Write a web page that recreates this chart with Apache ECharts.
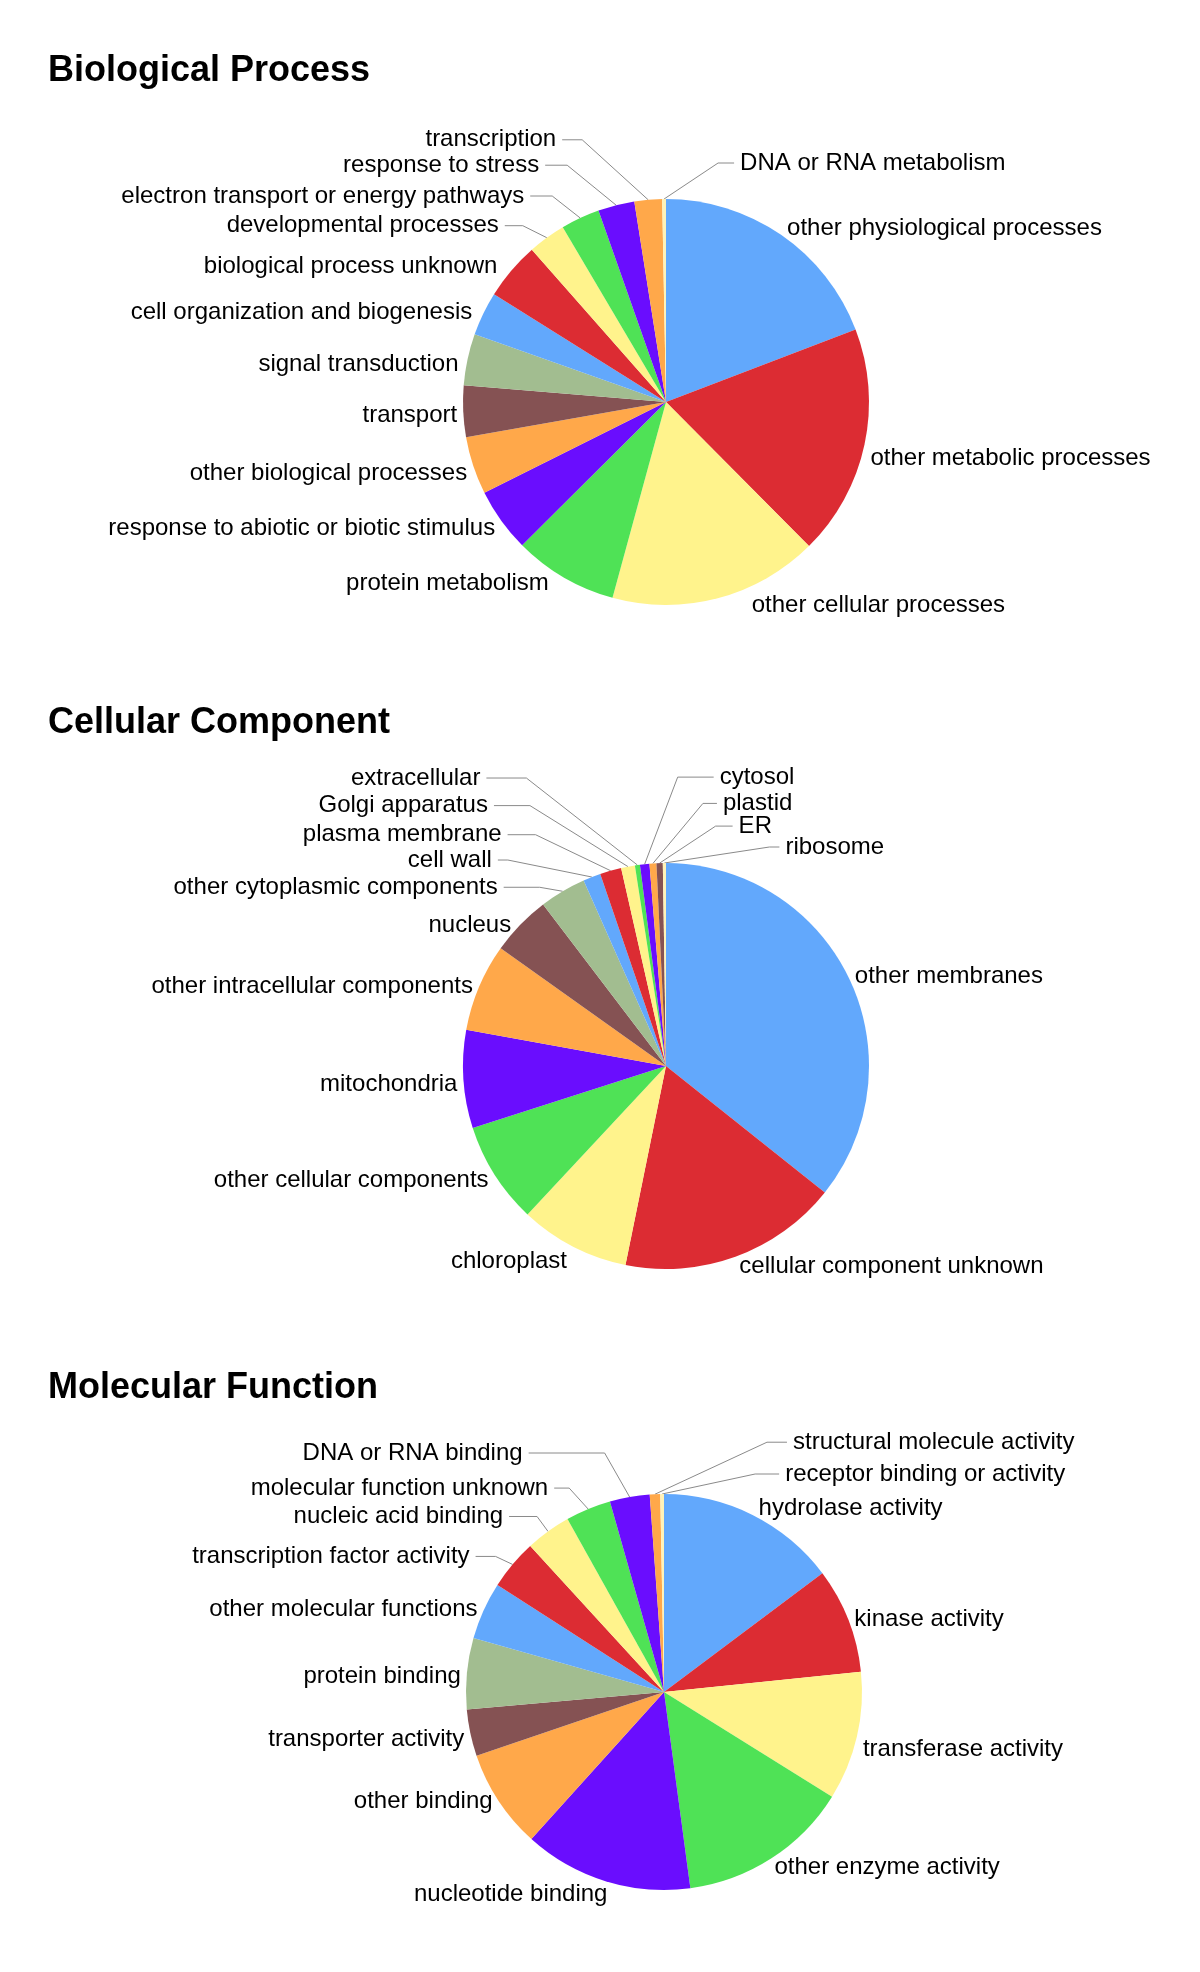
<!DOCTYPE html>
<html>
<head>
<meta charset="utf-8">
<script src="https://cdn.jsdelivr.net/npm/echarts@6/dist/echarts.min.js"></script>
<style>
html,body{margin:0;padding:0;background:#fff;}
#chart{width:1200px;height:1972px;}
</style>
</head>
<body>
<div id="chart"></div>
<script>
// ---- Data (percent of annotations) ----
const bpTitle = 'Biological Process';
const bpCategories = ['other physiological processes','other metabolic processes','other cellular processes','protein metabolism','response to abiotic or biotic stimulus','other biological processes','transport','signal transduction','cell organization and biogenesis','biological process unknown','developmental processes','electron transport or energy pathways','response to stress','transcription','DNA or RNA metabolism'];
const bpValues = [19.2, 18.4, 16.7, 8.3, 5.1, 4.6, 4.1, 4.1, 3.5, 4.6, 3.0, 3.1, 2.9, 2.2, 0.3];

const ccTitle = 'Cellular Component';
const ccCategories = ['other membranes','cellular component unknown','chloroplast','other cellular components','mitochondria','other intracellular components','nucleus','other cytoplasmic components','cell wall','plasma membrane','Golgi apparatus','extracellular','cytosol','plastid','ER','ribosome'];
const ccValues = [35.7, 17.5, 8.75, 8.1, 7.8, 7.0, 4.8, 3.7, 1.4, 1.7, 1.1, 0.4, 0.75, 0.55, 0.5, 0.25];

const mfTitle = 'Molecular Function';
const mfCategories = ['hydrolase activity','kinase activity','transferase activity','other enzyme activity','nucleotide binding','other binding','transporter activity','protein binding','other molecular functions','transcription factor activity','nucleic acid binding','molecular function unknown','DNA or RNA binding','structural molecule activity','receptor binding or activity'];
const mfValues = [14.75, 8.6, 10.5, 14.0, 13.8, 8.1, 3.8, 5.8, 4.7, 4.1, 3.7, 3.7, 3.25, 0.85, 0.3];

// ---- Label styling: labels moved away with a leader line ----
// [offset x of text end from slice edge, offset y, horizontal elbow length]
const bpLeader = {
  'transcription': [-92, -60, 20],
  'response to stress': [-77, -40, 22],
  'electron transport or energy pathways': [-56, -22, 22],
  'developmental processes': [-48, -12, 18],
  'DNA or RNA metabolism': [76, -36, 16]
};
const ccLeader = {
  'other cytoplasmic components': [-65, -4, 36],
  'cell wall': [-100, -17, 10],
  'plasma membrane': [-109, -36, 28],
  'Golgi apparatus': [-140, -61, 36],
  'extracellular': [-157, -87, 40],
  'cytosol': [75, -87, 36],
  'plastid': [70, -60, 14],
  'ER': [79, -37, 17],
  'ribosome': [121, -16, 10]
};
const mfLeader = {
  'transcription factor activity': [-43, -8, 20],
  'nucleic acid binding': [-45, -15, 28],
  'molecular function unknown': [-40, -21, 15],
  'DNA or RNA binding': [-107, -44, 76],
  'structural molecule activity': [138, -52, 20],
  'receptor binding or activity': [123, -20, 24]
};
// small extra nudges [dx, dy] for labels without leader line
const labelNudge = {
  'other cellular processes': [28, -9],
  'protein metabolism': [-9, -8],
  'other metabolic processes': [0, 7],
  'biological process unknown': [-8, 0],
  'cell organization and biogenesis': [-5, 0],
  'signal transduction': [-3, 4],
  'response to abiotic or biotic stimulus': [0, -3],
  'nucleotide binding': [8, -2],
  'transferase activity': [0, 6],
  'other enzyme activity': [-3, -5],
  'other binding': [0, -10],
  'nucleus': [-3, 5],
  'other cellular components': [0, -5],
  'cellular component unknown': [-2, -6]
};

// ---- Style ----
const palette = ['#62a8fc','#dc2c33','#fff38c','#4fe256','#6a0dfe','#ffa84a','#855253','#a2bd90'];
const lastColor = '#fff2b8';
const FONT = '"Liberation Sans", Arial, Helvetica, sans-serif';
const GAP = 6;

// slice mid-angle geometry (pie starts at 12 o'clock, clockwise)
function sliceGeometry(vals, center, r) {
  const sum = vals.reduce((a, b) => a + b, 0);
  let cum = 0;
  return vals.map(v => {
    const mid = (cum + v / 2) / sum * 2 * Math.PI;
    cum += v;
    const s = Math.sin(mid), c = Math.cos(mid);
    return { s: s, c: c, x: center[0] + r * s, y: center[1] - r * c };
  });
}

function pieSeries(cats, vals, leaders, center, radius) {
  const geo = sliceGeometry(vals, center, radius);
  const data = cats.map((name, i) => ({
    name: name,
    value: vals[i],
    itemStyle: { color: (i === cats.length - 1) ? lastColor : palette[i % palette.length] },
    labelLine: { show: !!leaders[name] }
  }));
  return {
    type: 'pie',
    center: center,
    radius: radius,
    startAngle: 90,
    clockwise: true,
    avoidLabelOverlap: false,
    animation: false,
    silent: true,
    emphasis: { disabled: true },
    itemStyle: { borderWidth: 0 },
    label: {
      show: true,
      position: 'outside',
      formatter: '{b}',
      fontSize: 24,
      fontFamily: FONT,
      color: '#000'
    },
    labelLine: {
      show: true,
      length: 10,
      length2: 10,
      lineStyle: { color: '#8a8a8a', width: 1 }
    },
    labelLayout: function (p) {
      const g = geo[p.dataIndex];
      const name = cats[p.dataIndex];
      const lead = leaders[name];
      if (lead) {
        const right = lead[0] > 0;
        const tx = g.x + lead[0], ty = g.y + lead[1];
        const lx = right ? tx - GAP : tx + GAP;
        const ex = right ? lx - lead[2] : lx + lead[2];
        return {
          x: tx, y: ty, align: right ? 'left' : 'right', verticalAlign: 'middle',
          labelLinePoints: [[g.x, g.y], [ex, ty], [lx, ty]]
        };
      }
      const right = g.s >= 0;
      const n = labelNudge[name] || [0, 0];
      return {
        x: (right ? g.x + GAP : g.x - GAP) + n[0],
        y: g.y - 12 * g.c + 4 + n[1],
        align: right ? 'left' : 'right',
        verticalAlign: 'middle'
      };
    },
    data: data
  };
}

const chart = echarts.init(document.getElementById('chart'), null, { renderer: 'canvas' });
const titleStyle = { fontSize: 36, fontWeight: 'bold', fontFamily: FONT, color: '#000' };
chart.setOption({
  backgroundColor: '#fff',
  animation: false,
  title: [
    { text: bpTitle, left: 48, top: 53, padding: 0, textStyle: titleStyle },
    { text: ccTitle, left: 48, top: 705, padding: 0, textStyle: titleStyle },
    { text: mfTitle, left: 48, top: 1370, padding: 0, textStyle: titleStyle }
  ],
  series: [
    pieSeries(bpCategories, bpValues, bpLeader, [666, 402], 203),
    pieSeries(ccCategories, ccValues, ccLeader, [666, 1066], 203),
    pieSeries(mfCategories, mfValues, mfLeader, [664, 1692], 198)
  ]
});
</script>
</body>
</html>
